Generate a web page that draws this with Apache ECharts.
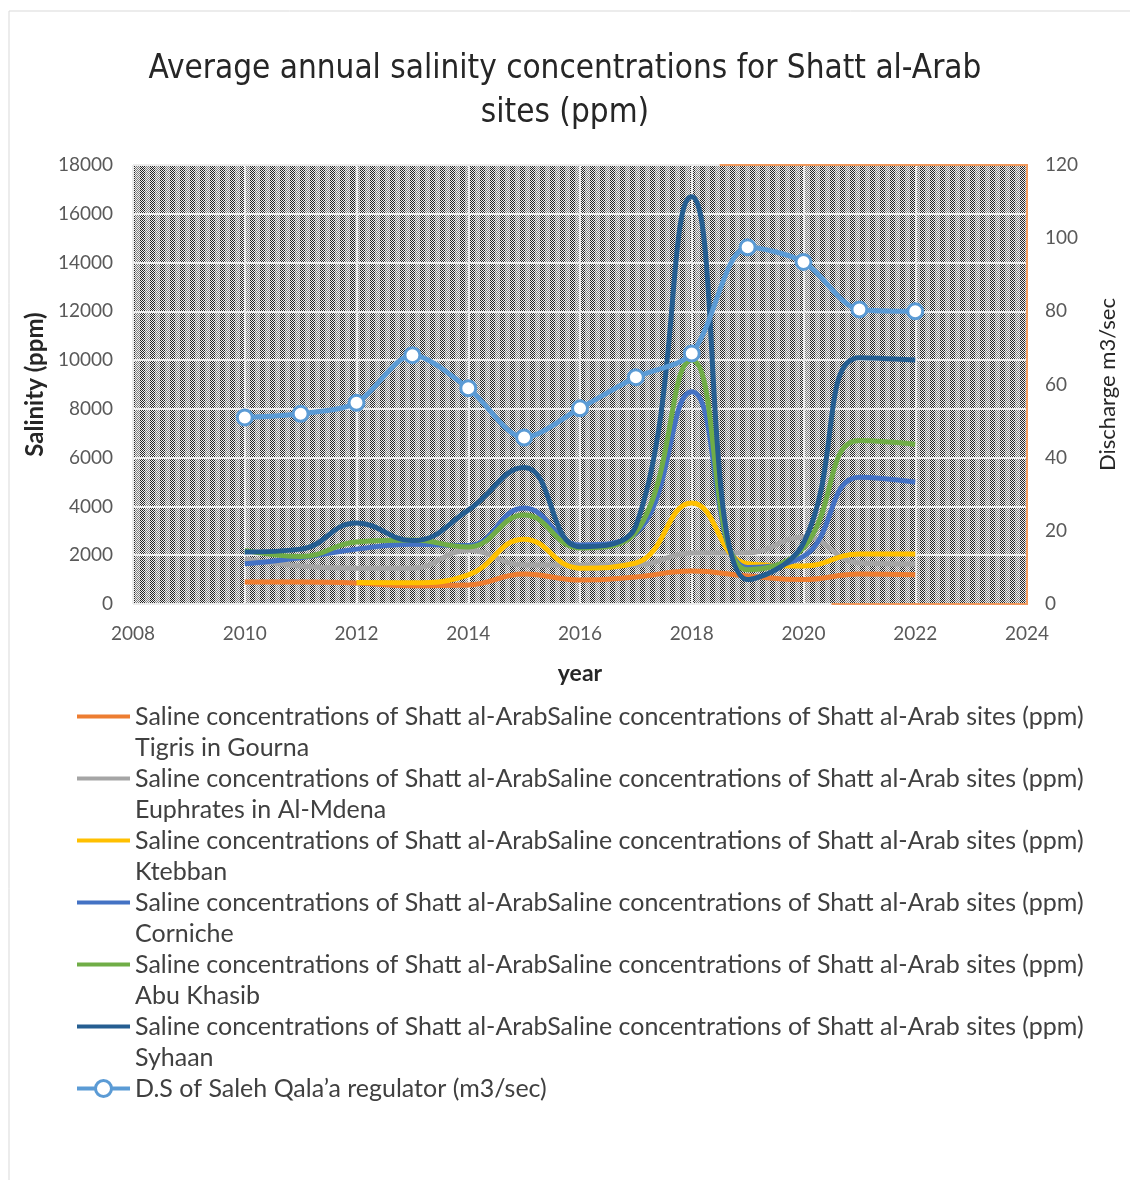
<!DOCTYPE html>
<html>
<head>
<meta charset="utf-8">
<script src="https://cdn.jsdelivr.net/npm/echarts@6/dist/echarts.min.js"></script>
<style>
  html, body { margin: 0; padding: 0; background: #ffffff; }
  #chart { width: 1130px; height: 1180px; }
</style>
</head>
<body>
<div id="chart"></div>
<script>
// Years of observation
const years = [2010, 2011, 2012, 2013, 2014, 2015, 2016, 2017, 2018, 2019, 2020, 2021, 2022];

// Salinity (ppm) per site
const tigrisGourna    = [900, 900, 860, 750, 780, 1230, 980, 1110, 1350, 1150, 1000, 1230, 1200];
const euphratesMdena  = [1840, 1560, 1470, 1470, 2200, 1600, 1600, 1600, 2090, 2100, 2750, 1680, 1640];
const ktebban         = [null, null, 880, 870, 1190, 2660, 1470, 1680, 4140, 1650, 1560, 2050, 2050];
const corniche        = [1650, 1900, 2250, 2450, 2400, 3940, 2420, 2900, 8700, 1500, 1950, 5200, 5000];
const abuKhasib       = [2200, 1950, 2540, 2620, 2340, 3650, 2300, 2950, 10000, 1400, 2300, 6700, 6550];
const syhaan          = [2130, 2250, 3320, 2600, 3850, 5600, 2350, 3200, 16700, 1000, 2500, 10100, 10000];

// Discharge downstream of Saleh Qala'a regulator (m3/sec)
const discharge       = [51, 52, 55, 68, 59, 45.5, 53.5, 62, 68.5, 97.5, 93.5, 80.5, 80];

// Axis ticks
const yearTicks     = { min: 2008, max: 2024, step: 2 };
const salinityTicks = { min: 0, max: 18000, step: 2000 };
const flowTicks     = { min: 0, max: 120, step: 20 };

const prefix = 'Saline concentrations of Shatt al-ArabSaline concentrations of Shatt al-Arab sites (ppm)';
const sites = [
  { name: prefix + '\nTigris in Gourna',      values: tigrisGourna,   color: '#ED7D31' },
  { name: prefix + '\nEuphrates in Al-Mdena', values: euphratesMdena, color: '#A5A5A5' },
  { name: prefix + '\nKtebban',               values: ktebban,        color: '#FFC000' },
  { name: prefix + '\nCorniche',              values: corniche,       color: '#4472C4' },
  { name: prefix + '\nAbu Khasib',            values: abuKhasib,      color: '#70AD47' },
  { name: prefix + '\nSyhaan',                values: syhaan,         color: '#255E91' }
];
const flowName = 'D.S of Saleh Qala\u2019a regulator (m3/sec)';

const pairs = vals => years.map((y, i) => [y, vals[i]]);

// Dotted fill of the plot area, with vertical banding
function dottedFill() {
  const c = document.createElement('canvas');
  c.width = 10; c.height = 4;
  const g = c.getContext('2d');
  g.fillStyle = '#eeeeee';
  g.fillRect(0, 0, 10, 4);
  for (let y = 0; y < 4; y++) {
    for (let x = 0; x < 10; x++) {
      if ((x + y) % 2 === 0) {
        g.fillStyle = x < 5 ? '#222222' : '#808080';
        g.fillRect(x, y, 1, 1);
      }
    }
  }
  return c;
}

const uiFont = 'Lato, "Open Sans", sans-serif';
const titleFont = '"Liberation Sans Narrow", "DejaVu Sans Condensed", sans-serif';
const lineIcon = 'path://M0,0H53V4H0Z';

const chart = echarts.init(document.getElementById('chart'), null, { renderer: 'canvas' });

const series = sites.map(s => ({
  name: s.name,
  type: 'line',
  data: pairs(s.values),
  smooth: 0.45,
  symbol: 'none',
  showSymbol: false,
  connectNulls: false,
  yAxisIndex: 0,
  lineStyle: { color: s.color, width: 5 },
  itemStyle: { color: s.color },
  z: 3
}));

series.push({
  name: flowName,
  type: 'line',
  data: pairs(discharge),
  smooth: 0.3,
  yAxisIndex: 1,
  symbol: 'circle',
  symbolSize: 15,
  showSymbol: true,
  lineStyle: { color: '#5B9BD5', width: 5 },
  itemStyle: { color: '#ffffff', borderColor: '#5B9BD5', borderWidth: 3 },
  z: 4
});

// Site entries use a plain line swatch; the regulator entry keeps line + marker
const legendData = sites.map(s => ({ name: s.name, icon: lineIcon }));
legendData.push({
  name: flowName,
  itemStyle: { borderWidth: 3 },
  lineStyle: { width: 4 }
});

const tickLabel = { color: '#595959', fontSize: 19, fontFamily: uiFont };

chart.setOption({
  animation: false,
  backgroundColor: '#ffffff',
  title: {
    text: 'Average annual salinity concentrations for Shatt al-Arab\nsites (ppm)',
    left: 'center',
    top: 42,
    textStyle: {
      fontFamily: titleFont,
      fontSize: 33,
      fontWeight: 'normal',
      color: '#262626',
      lineHeight: 44
    }
  },
  grid: {
    left: 133, right: 103, top: 165, bottom: 576,
    show: true,
    borderWidth: 0,
    backgroundColor: { image: dottedFill(), repeat: 'repeat' }
  },
  legend: {
    orient: 'vertical',
    left: 75,
    top: 670,
    padding: 0,
    itemWidth: 53,
    itemHeight: 20,
    itemGap: -31,
    data: legendData,
    // an empty leading line keeps the swatch level with the first text line
    formatter: name => name === flowName ? '\n' + name + '\n' : '\n' + name,
    textStyle: { fontFamily: uiFont, fontSize: 25, color: '#404040', lineHeight: 31 }
  },
  xAxis: {
    type: 'value',
    min: yearTicks.min, max: yearTicks.max, interval: yearTicks.step,
    name: 'year',
    nameLocation: 'middle',
    nameGap: 58,
    nameTextStyle: { fontFamily: uiFont, fontSize: 23, fontWeight: 'bold', color: '#262626' },
    axisLine: { show: false },
    axisTick: { show: false },
    axisLabel: Object.assign({ margin: 20, formatter: v => String(v) }, tickLabel),
    splitLine: { show: true, lineStyle: { color: '#ececec', width: 2 } }
  },
  yAxis: [
    {
      type: 'value',
      min: salinityTicks.min, max: salinityTicks.max, interval: salinityTicks.step,
      name: 'Salinity (ppm)',
      nameLocation: 'middle',
      nameGap: 86,
      nameTextStyle: { fontFamily: uiFont, fontSize: 24, fontWeight: 'bold', color: '#262626' },
      axisLine: { show: false },
      axisTick: { show: false },
      axisLabel: Object.assign({ margin: 20, formatter: v => String(v) }, tickLabel),
      splitLine: { show: true, lineStyle: { color: '#ececec', width: 2 } }
    },
    {
      type: 'value',
      position: 'right',
      min: flowTicks.min, max: flowTicks.max, interval: flowTicks.step,
      name: 'Discharge m3/sec',
      nameLocation: 'middle',
      nameGap: 70,
      nameTextStyle: { fontFamily: uiFont, fontSize: 22, color: '#262626' },
      axisLine: { show: false },
      axisTick: { show: false },
      axisLabel: Object.assign({ margin: 18, formatter: v => String(v) }, tickLabel),
      splitLine: { show: false }
    }
  ],
  series: series
});

// Chart frame and the orange outline on the right part of the plot area
const tl = chart.convertToPixel({ xAxisIndex: 0, yAxisIndex: 0 }, [yearTicks.min, salinityTicks.max]);
const br = chart.convertToPixel({ xAxisIndex: 0, yAxisIndex: 0 }, [yearTicks.max, salinityTicks.min]);
const topStart = chart.convertToPixel({ xAxisIndex: 0 }, 2018.5);
const botStart = chart.convertToPixel({ xAxisIndex: 0 }, 2020.5);
chart.setOption({
  graphic: [
    {
      type: 'rect',
      shape: { x: 9, y: 11, width: 1200, height: 1200 },
      style: { fill: 'none', stroke: '#d9d9d9', lineWidth: 1 },
      silent: true
    },
    {
      type: 'polyline',
      shape: { points: [[topStart, tl[1]], [br[0], tl[1]], [br[0], br[1]], [botStart, br[1]]] },
      style: { fill: 'none', stroke: '#F19A5E', lineWidth: 2 },
      silent: true,
      z: 10
    }
  ]
});
</script>
</body>
</html>
